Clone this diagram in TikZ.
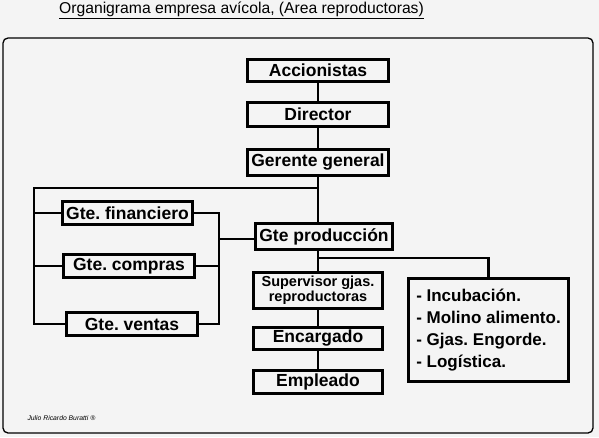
\documentclass[tikz,border=0pt]{standalone}
\usepackage{fontspec}
\setmainfont{Liberation Sans}
\frenchspacing
\definecolor{fondo}{HTML}{F4F4F4}
\tikzset{
  caja/.style={draw, line width=2.6pt, inner sep=0pt, font=\bfseries\fontsize{17.5}{20}\selectfont},
  linea/.style={line width=2.6pt},
}
\begin{document}
\begin{tikzpicture}[x=1pt,y=-1pt]

% Fondo y marco
  \fill[fondo] (0,0) rectangle (599,437);
  \useasboundingbox (0,0) rectangle (599,437);
  \draw[line width=1.3pt, rounded corners=5pt] (3,38) rectangle (593,433);

  \node (titulo) at (241.5,10) {\fontsize{15.7}{18}\selectfont\underline{Organigrama empresa avícola, (Area reproductoras)}};

% Cajas
  \node[caja, minimum width=141, minimum height=22] (acc) at (318,70.5) {Accionistas};
  \node[caja, minimum width=141, minimum height=24] (dir) at (318,114.5) {Director};
  \node[caja, minimum width=141, minimum height=26] (ger) at (318,162.5) {Gerente general};
  \node[caja, minimum width=130, minimum height=23] (fin) at (127.5,213) {Gte. financiero};
  \node[caja, minimum width=131, minimum height=23] (com) at (129,266) {Gte. compras};
  \node[caja, minimum width=131, minimum height=23] (ven) at (132,324) {Gte. ventas};
  \node[caja, minimum width=137, minimum height=26] (prod) at (324,236.5) {Gte producción};
  \node[caja, minimum width=129, minimum height=36, align=center,
        font=\bfseries\fontsize{14.5}{15}\selectfont] (sup) at (318,290.5) {Supervisor gjas.\\reproductoras};
  \node[caja, minimum width=129, minimum height=22] (enc) at (318,338.5) {Encargado};
  \node[caja, minimum width=129, minimum height=23] (emp) at (318,382) {Empleado};
  \node[caja, minimum width=160, minimum height=103, inner xsep=8pt, align=left,
        font=\bfseries\fontsize{17}{22}\selectfont] (lst) at (488.5,330)
        {- Incubación.\\- Molino alimento.\\- Gjas. Engorde.\\- Logística.};

  \node[anchor=west, font=\itshape\fontsize{6.8}{8}\selectfont] (firma) at (24,418) {Julio Ricardo Buratti ®};

% Lineas
  \coordinate (izq) at (34,188);
  \coordinate (der) at (219,239);
  \coordinate (tee) at (318,258);

  \draw[linea] (acc) -- (dir);
  \draw[linea] (dir) -- (ger);
  \draw[linea] (ger.south) -- (ger.south |- prod.north);
  \draw[linea] (ger.south) |- (izq) -- (izq |- ven.west) -- (ven.west);
  \foreach \n in {fin,com}
    \draw[linea] (izq |- \n.west) -- (\n.west);
  \draw[linea] (fin.east) -| (der |- ven.east) -- (ven.east);
  \draw[linea] (com.east) -- (com.east -| der);
  \draw[linea] (der) -- (der -| prod.west);

  \draw[linea] (sup.north |- prod.south) -- (sup.north);
  \draw[linea] (tee) -| (lst.north);
  \draw[linea] (sup) -- (enc);
  \draw[linea] (enc) -- (emp);

\end{tikzpicture}
\end{document}
